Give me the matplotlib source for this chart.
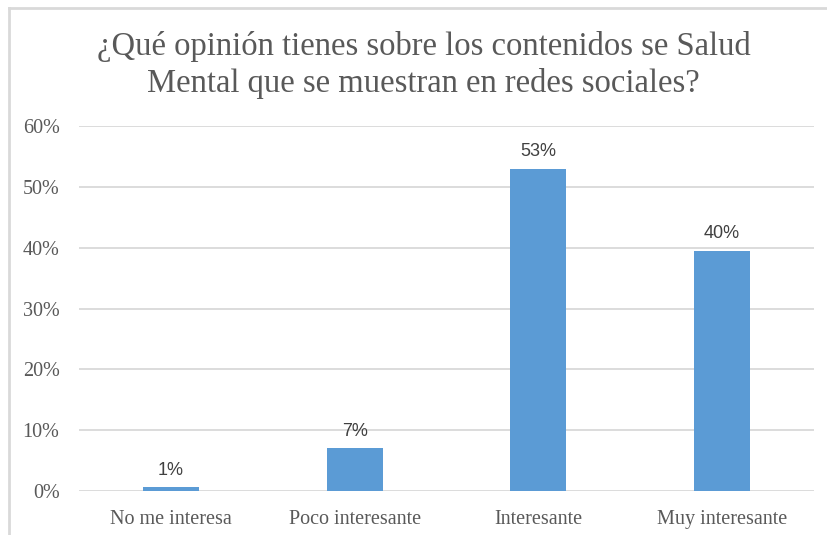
import matplotlib.pyplot as plt
from matplotlib.lines import Line2D

categories = ["No me interesa", "Poco interesante", "Interesante", "Muy interesante"]
values = [0.6, 7.0, 53.0, 39.5]
labels = ["1%", "7%", "53%", "40%"]
yticks = [0, 10, 20, 30, 40, 50, 60]

W, H = 827, 535
fig = plt.figure(figsize=(W / 100, H / 100), dpi=100)

# chart frame (only top and left edges visible)
fig.add_artist(Line2D([9 / W, 9 / W], [0, 1 - 8 / H], color="#D9D9D9", lw=2))
fig.add_artist(Line2D([9 / W, 1], [1 - 8 / H, 1 - 8 / H], color="#D9D9D9", lw=2))

ax = fig.add_axes([79 / W, 1 - 491 / H, (814 - 79) / W, (491 - 126) / H])
x = range(len(categories))
bars = ax.bar(x, values, width=0.305, color="#5B9BD5", zorder=3)
for b, lab in zip(bars, labels):
    ax.annotate(lab, (b.get_x() + b.get_width() / 2, b.get_height()),
                xytext=(0, 6), textcoords="offset points", ha="center", va="bottom",
                fontsize=13, color="#404040", family="Liberation Sans")

ax.set_xlim(-0.5, 3.5)
ax.set_ylim(0, 60)
ax.set_yticks(yticks)
ax.set_yticklabels([f"{t}%" for t in yticks], family="Liberation Serif", fontsize=14.5, color="#595959")
ax.set_xticks(list(x))
ax.set_xticklabels(categories, family="Liberation Serif", fontsize=14.5, color="#595959")
ax.tick_params(length=0)
ax.tick_params(axis="x", pad=14)
ax.tick_params(axis="y", pad=14)
ax.grid(axis="y", color="#D9D9D9", lw=1.3, zorder=0)
for s in ax.spines.values():
    s.set_visible(False)

fig.text(0.5 + 10 / W, 1 - 65 / H, "¿Qué opinión tienes sobre los contenidos se Salud\nMental que se muestran en redes sociales?",
         ha="center", va="center", family="Liberation Serif", fontsize=23.5, color="#595959", linespacing=1.25)

fig.savefig("out.png", dpi=100)
